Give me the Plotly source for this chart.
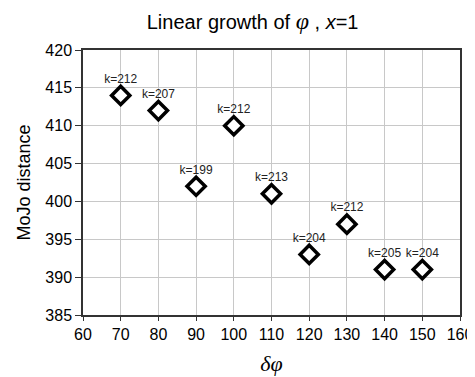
import plotly.graph_objects as go

delta_phi = [70, 80, 90, 100, 110, 120, 130, 140, 150]
mojo = [414, 412, 402, 410, 401, 393, 397, 391, 391]
k_labels = ["k=212", "k=207", "k=199", "k=212", "k=213", "k=204", "k=212", "k=205", "k=204"]

fig = go.Figure()
fig.add_trace(go.Scatter(
    x=delta_phi, y=mojo, mode="markers+text",
    text=k_labels, textposition="top center",
    textfont=dict(family="Arial, Liberation Sans", size=12, color="#222222"),
    marker=dict(symbol="diamond", size=14, color="white",
                line=dict(color="black", width=3.5)),
    showlegend=False,
))

fig.update_layout(
    width=475, height=377,
    margin=dict(l=75, r=23, t=42, b=70, autoexpand=False),
    paper_bgcolor="white", plot_bgcolor="white",
    title=dict(
        text="Linear growth of <i><span style='font-family:Liberation Serif;font-size:24px'>φ</span></i> , <i>x</i>=1",
        x=0.515, xanchor="center", y=0.962, yanchor="middle",
        font=dict(family="Arial, Liberation Sans", size=20, color="black"),
    ),
    xaxis=dict(
        range=[60, 160], tickvals=list(range(60, 161, 10)),
        showgrid=True, gridcolor="#c8c8c8", gridwidth=1,
        showline=True, linecolor="#333333", linewidth=1.5, mirror=True,
        ticks="outside", ticklen=4, tickcolor="#333333",
        tickfont=dict(family="Arial, Liberation Sans", size=16, color="black"),
        title=dict(text="<i>δφ</i>", standoff=14,
                   font=dict(family="Liberation Serif", size=22, color="black")),
        zeroline=False, automargin=False,
    ),
    yaxis=dict(
        range=[385, 420], tickvals=list(range(385, 421, 5)),
        showgrid=True, gridcolor="#c8c8c8", gridwidth=1,
        showline=True, linecolor="#333333", linewidth=1.5, mirror=True,
        ticks="outside", ticklen=6, tickcolor="#333333",
        tickfont=dict(family="Arial, Liberation Sans", size=16, color="black"),
        title=dict(text="MoJo distance", standoff=10,
                   font=dict(family="Arial, Liberation Sans", size=18, color="black")),
        zeroline=False, automargin=False,
    ),
)

fig.write_html("out.html")
